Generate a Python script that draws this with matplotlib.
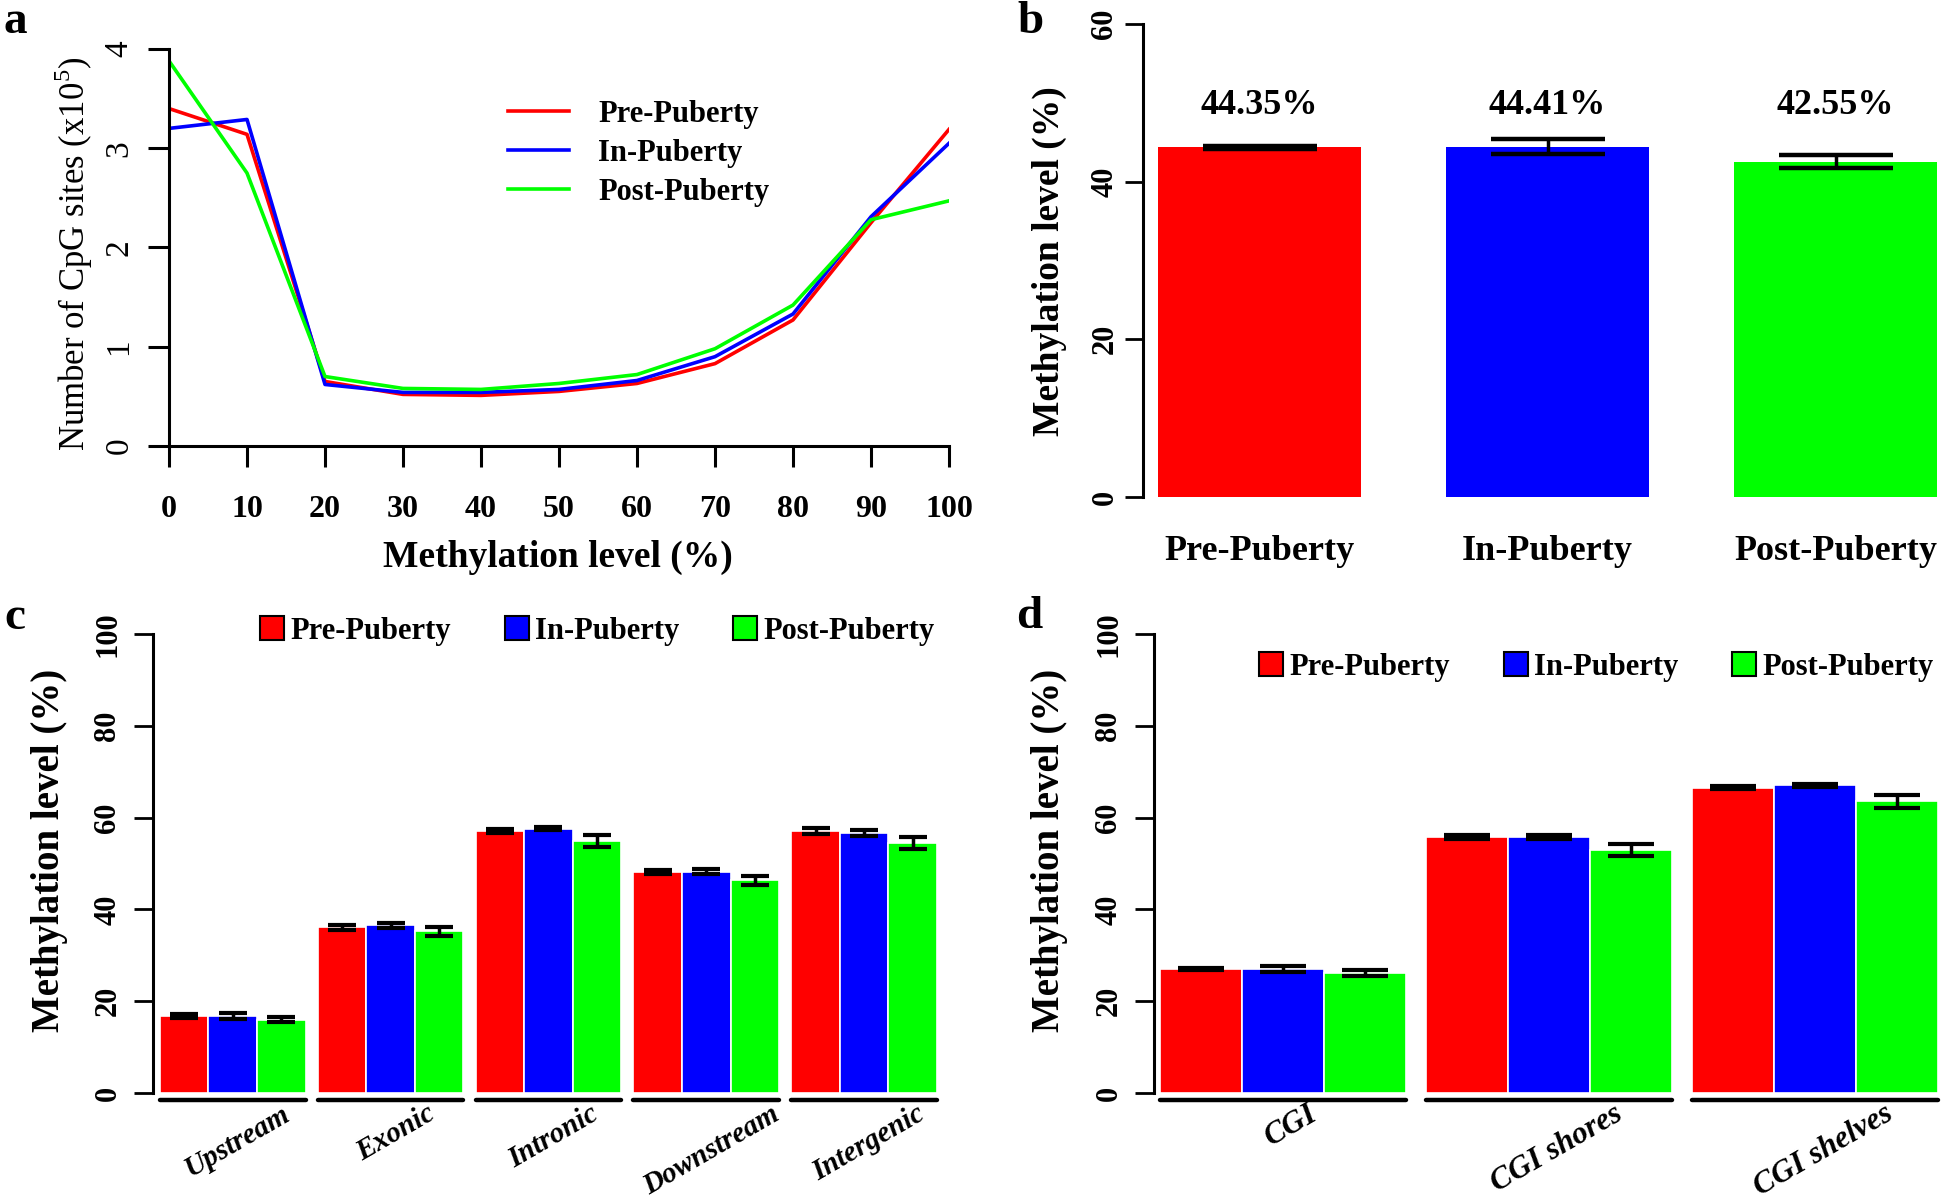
import matplotlib
matplotlib.use('Agg')
import matplotlib.pyplot as plt
from matplotlib.patches import Patch
import numpy as np

# ---------------- data ----------------
methyl_bins = [0, 10, 20, 30, 40, 50, 60, 70, 80, 90, 100]
pre_counts = [3.40, 3.14, 0.65, 0.52, 0.51, 0.55, 0.63, 0.83, 1.27, 2.25, 3.19]
in_counts = [3.20, 3.29, 0.62, 0.54, 0.54, 0.57, 0.66, 0.90, 1.33, 2.31, 3.05]
post_counts = [3.88, 2.75, 0.70, 0.58, 0.57, 0.63, 0.72, 0.98, 1.42, 2.28, 2.47]

stages = ['Pre-Puberty', 'In-Puberty', 'Post-Puberty']
overall_mean = [44.35, 44.41, 42.55]
overall_err = [0.2, 0.95, 0.85]
overall_labels = ['44.35%', '44.41%', '42.55%']

regions_c = ['Upstream', 'Exonic', 'Intronic', 'Downstream', 'Intergenic']
c_pre = [16.8, 36.1, 57.1, 48.2, 57.1]
c_pre_err = [0.4, 0.6, 0.4, 0.4, 0.6]
c_in = [16.8, 36.5, 57.6, 48.2, 56.6]
c_in_err = [0.6, 0.5, 0.4, 0.5, 0.6]
c_post = [16.0, 35.2, 55.0, 46.3, 54.5]
c_post_err = [0.5, 0.9, 1.3, 1.0, 1.3]

regions_d = ['CGI', 'CGI shores', 'CGI shelves']
d_pre = [27.0, 55.8, 66.5]
d_pre_err = [0.3, 0.5, 0.3]
d_in = [27.0, 55.8, 67.0]
d_in_err = [0.6, 0.5, 0.4]
d_post = [26.1, 53.0, 63.6]
d_post_err = [0.7, 1.3, 1.4]

colors = ['#FF0000', '#0000FF', '#00FF00']

# ---------------- figure ----------------
W, H = 1946, 1203
DPI = 100
plt.rcParams['font.family'] = ['Liberation Serif', 'DejaVu Serif']
plt.rcParams['mathtext.fontset'] = 'custom'
plt.rcParams['mathtext.rm'] = 'Liberation Serif'
fig = plt.figure(figsize=(W / DPI, H / DPI), dpi=DPI)


def rect(l, t, r, b):
    return [l / W, 1 - b / H, (r - l) / W, (b - t) / H]


def fpt(x, y):
    return (x / W, 1 - y / H)


def style_axis(ax, bottom=True):
    for s in ['top', 'right']:
        ax.spines[s].set_visible(False)
    ax.spines['left'].set_linewidth(2.2)
    if bottom:
        ax.spines['bottom'].set_linewidth(2.2)
    else:
        ax.spines['bottom'].set_visible(False)


# ---------- panel a ----------
axa = fig.add_axes(rect(169, 49, 949, 446))
for vals, col, lab in zip([pre_counts, in_counts, post_counts], colors, stages):
    axa.plot(methyl_bins, vals, color=col, lw=2.6, label=lab)
axa.set_xlim(0, 100)
axa.set_ylim(0, 4)
style_axis(axa)
axa.set_xticks(methyl_bins)
axa.set_yticks([0, 1, 2, 3, 4])
axa.tick_params(axis='x', length=15, width=2.2, pad=20, labelsize=23)
axa.tick_params(axis='y', length=15, width=2.2, pad=10, labelsize=24, labelrotation=90)
for t in axa.get_xticklabels():
    t.set_fontweight('bold')
for t in axa.get_yticklabels():
    t.set_va('center')
fig.text(*fpt(74, 254), r'Number of CpG sites (x10$^5$)', rotation=90, ha='center',
         va='center', fontsize=25)
fig.text(*fpt(558, 557), 'Methylation level (%)', ha='center', va='center',
         fontsize=27, fontweight='bold')
axa.legend(loc='upper left', bbox_to_anchor=fpt(508, 100), bbox_transform=fig.transFigure,
           frameon=False, prop={'size': 22, 'weight': 'bold'}, handlelength=2.0,
           handletextpad=0.95, labelspacing=0.33, borderpad=0, borderaxespad=0)

# ---------- panel b ----------
axb = fig.add_axes(rect(1143, 24, 1937, 497))
xb = np.arange(len(stages))
bw = 0.705
axb.bar(xb, overall_mean, width=bw, color=colors, edgecolor='none')
bar_px = 203
axb.errorbar(xb, overall_mean, yerr=overall_err, fmt='none', ecolor='black',
             elinewidth=2.5, capsize=bar_px * 0.28 / 1.389, capthick=3.2)
axb.set_xlim(-0.405, 2 + bw / 2)
axb.set_ylim(0, 60)
style_axis(axb, bottom=False)
axb.set_yticks([0, 20, 40, 60])
axb.set_xticks(xb)
axb.set_xticklabels(stages, fontsize=26, fontweight='bold')
axb.tick_params(axis='x', length=0, pad=27)
axb.tick_params(axis='y', length=13, width=2, pad=4, labelsize=22, labelrotation=90)
for t in axb.get_yticklabels():
    t.set_fontweight('bold')
    t.set_va('center')
for x, lab in zip(xb, overall_labels):
    axb.text(x, 49.6, lab, ha='center', va='center', fontsize=26, fontweight='bold')
fig.text(*fpt(1049, 261), 'Methylation level (%)', rotation=90, ha='center', va='center',
         fontsize=27, fontweight='bold')


# ---------- grouped bars (c, d) ----------
def grouped(ax, regions, series, errs, l_px, r_px, xmin, gap, label_size, label_y):
    n = len(series)
    ng = len(regions)
    total = ng * n + (ng - 1) * gap
    unit_px = (r_px - l_px) / (total - xmin)
    for gi in range(ng):
        g0 = gi * (n + gap)
        for si in range(n):
            x = g0 + si + 0.5
            ax.bar(x, series[si][gi], width=1.0, color=colors[si], edgecolor='white', lw=1.2)
            ax.errorbar(x, series[si][gi], yerr=errs[si][gi], fmt='none', ecolor='black',
                        elinewidth=2.5, capsize=unit_px * 0.28 / 1.389, capthick=3)
        ax.plot([g0, g0 + n], [-1.6, -1.6], color='black', lw=3.2, clip_on=False,
                solid_capstyle='round')
        ax.text(g0 + n / 2 + 0.1, label_y, regions[gi], rotation=30, ha='center', va='top',
                fontsize=label_size, fontweight='bold', fontstyle='italic')
    ax.set_xlim(xmin, total)
    ax.set_ylim(0, 100)
    style_axis(ax, bottom=False)
    ax.set_xticks([])
    ax.set_yticks([0, 20, 40, 60, 80, 100])
    ax.tick_params(axis='y', length=14, width=2, pad=8, labelsize=22, labelrotation=90)
    for t in ax.get_yticklabels():
        t.set_fontweight('bold')
        t.set_va('center')


axc = fig.add_axes(rect(153, 634, 937, 1093))
grouped(axc, regions_c, [c_pre, c_in, c_post], [c_pre_err, c_in_err, c_post_err],
        153, 937, -0.14, 0.25, 21, -1.6)
axd = fig.add_axes(rect(1154, 634, 1938, 1093))
grouped(axd, regions_d, [d_pre, d_in, d_post], [d_pre_err, d_in_err, d_post_err],
        1154, 1938, -0.07, 0.25, 22.5, -1.4)

fig.text(*fpt(50, 850), 'Methylation level (%)', rotation=90, ha='center', va='center',
         fontsize=28, fontweight='bold')
fig.text(*fpt(1049, 850), 'Methylation level (%)', rotation=90, ha='center', va='center',
         fontsize=28, fontweight='bold')

handles = [Patch(facecolor=c, edgecolor='black', lw=1.5) for c in colors]
legkw = dict(ncol=3, frameon=False, prop={'size': 22, 'weight': 'bold'}, handlelength=0.8,
             handleheight=0.8, handletextpad=0.2, columnspacing=1.75, borderpad=0,
             borderaxespad=0, bbox_transform=fig.transFigure, loc='center left')
axc.legend(handles, stages, bbox_to_anchor=fpt(260, 631), **legkw)
axd.legend(handles, stages, bbox_to_anchor=fpt(1259, 667), **legkw)

# panel letters
for lab, (x, y) in zip('abcd', [(15, 22), (1031, 22), (15, 618), (1029, 617)]):
    fig.text(*fpt(x, y), lab, ha='center', va='center', fontsize=34, fontweight='bold')

fig.savefig('out.png', dpi=DPI)
